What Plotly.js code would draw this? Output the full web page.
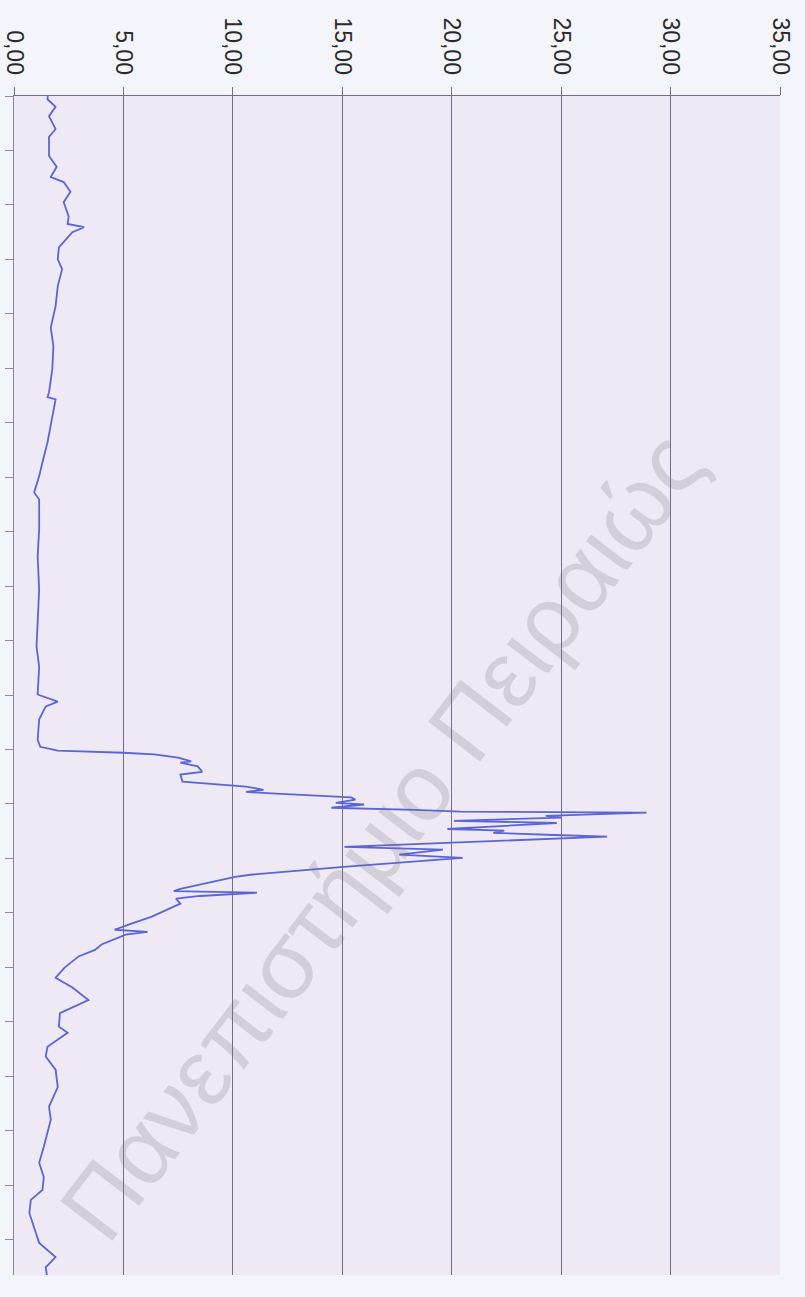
<!DOCTYPE html>
<html>
<head>
<meta charset="utf-8">
<script src="https://cdn.plot.ly/plotly-3.0.1.min.js"></script>
<style>
html,body{margin:0;padding:0;background:#f3f5fa;}
#chart{width:805px;height:1297px;}
</style>
</head>
<body>
<div id="chart"></div>
<script>
// sample index (time axis, vertical in the picture)
const sampleIndex = [0,6,20,37,61,75,110,130,149,158,176,195,221,235,241,250,278,300,318,349,386,425,460,502,544,553,557,588,636,673,698,728,741,796,846,906,961,1011,1048,1099,1112,1121,1145,1182,1195,1202,1206,1209,1215,1222,1224,1231,1241,1246,1259,1263,1268,1274,1278,1281,1288,1292,1298,1301,1307,1311,1314,1316,1322,1325,1331,1335,1346,1349,1353,1357,1360,1379,1384,1393,1399,1415,1430,1434,1447,1456,1460,1463,1469,1474,1483,1494,1507,1522,1531,1535,1540,1558,1568,1580,1601,1619,1637,1660,1684,1709,1720,1746,1764,1788,1820,1856,1880,1930,1959,1985,2009,2027,2051,2088,2106,2132,2151,2165];
// measured values
const values = [1.54,1.53,1.9,1.6,1.9,1.6,1.6,1.95,1.68,2.27,2.58,2.27,2.5,2.45,3.2,2.67,2.05,2.0,2.2,2.0,1.9,1.68,1.8,1.75,1.6,1.53,1.9,1.75,1.53,1.3,1.15,0.92,1.15,1.15,1.08,1.15,1.08,1.03,1.15,1.08,2.0,1.45,1.15,1.08,1.2,2.0,5.0,6.4,7.5,8.1,7.6,8.4,8.6,7.6,7.7,8.9,10.6,11.4,10.6,12.0,15.4,15.6,14.7,16.0,14.5,18.3,20.4,28.9,24.3,25.0,20.1,24.8,19.8,22.4,21.9,24.7,27.1,15.1,19.6,17.6,20.5,15.2,10.8,10.1,8.6,7.6,7.3,11.1,8.5,7.4,7.6,7.0,6.3,5.2,4.6,6.1,5.1,4.0,3.7,2.95,2.3,1.9,2.67,3.4,2.1,2.05,2.45,1.53,1.45,1.9,2.0,1.6,1.68,1.36,1.15,1.36,1.3,0.77,0.7,1.0,1.15,1.9,1.45,1.5];
const valueTicks = [0,5,10,15,20,25,30,35];
const indexTicks = [0,100,200,300,400,500,600,700,800,900,1000,1100,1200,1300,1400,1500,1600,1700,1800,1900,2000,2100];
const watermark = "Πανεπιστήμιο Πειραιώς";

const trace = {
  x: values, y: sampleIndex, type: 'scatter', mode: 'lines',
  line: {color: '#5a66d6', width: 1.8}, hoverinfo: 'none'
};
const layout = {
  width: 805, height: 1297,
  margin: {l: 14, r: 25, t: 96, b: 22},
  paper_bgcolor: '#f3f5fa', plot_bgcolor: '#efe8f5',
  separators: ',.',
  showlegend: false,
  font: {family: 'Liberation Sans, Arial, sans-serif', color: '#2a2a2a'},
  xaxis: {
    range: [0, 35], side: 'top', tickvals: valueTicks, tickformat: '.2f',
    tickangle: 90, tickfont: {size: 23, color: '#2a2a2a'},
    ticklabeloverflow: 'allow',
    showgrid: true, gridcolor: '#766c8a', gridwidth: 1,
    showline: true, linecolor: '#766c8a', linewidth: 1,
    ticks: 'outside', ticklen: 8, tickcolor: '#766c8a',
    ticklabelstandoff: 4, zeroline: false, fixedrange: true
  },
  yaxis: {
    range: [2165, 0], tickvals: indexTicks, showticklabels: false,
    ticks: 'outside', ticklen: 8, tickcolor: '#8a8a9a',
    showline: true, linecolor: '#8a80a0', linewidth: 1,
    showgrid: false, zeroline: false, fixedrange: true
  },
  annotations: [{
    text: watermark, xref: 'paper', yref: 'paper', x: 0.48, y: 0.372,
    showarrow: false, textangle: -52.5,
    font: {family: 'Liberation Sans, Arial, sans-serif', size: 95, color: 'rgba(120,115,125,0.22)'}
  }]
};
Plotly.newPlot('chart', [trace], layout, {staticPlot: true, displayModeBar: false});
</script>
</body>
</html>
